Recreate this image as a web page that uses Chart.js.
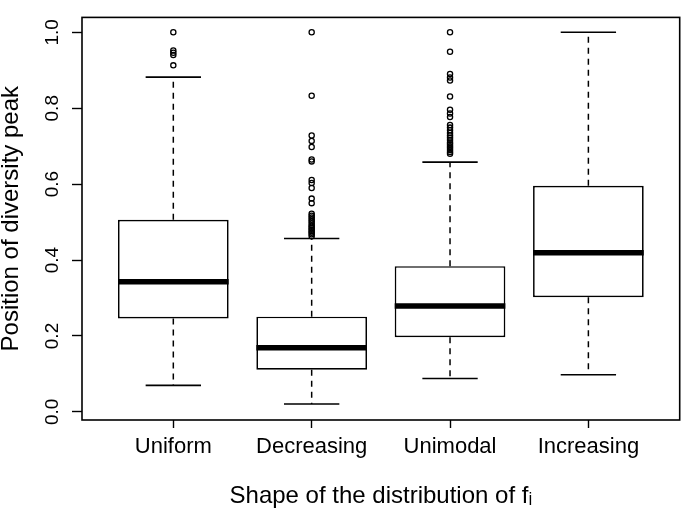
<!DOCTYPE html>
<html><head><meta charset="utf-8">
<script src="https://cdn.jsdelivr.net/npm/chart.js@4/dist/chart.umd.min.js"></script>
<style>html,body{margin:0;padding:0;background:#fff}#wrap{width:685px;height:514px}</style>
</head><body><div id="wrap"><canvas id="c" width="685" height="514"></canvas></div>
<script>
// ---- data ----
const categories = ['Uniform', 'Decreasing', 'Unimodal', 'Increasing'];
const whiskerLow  = [0.070, 0.021, 0.088, 0.098];
const quartile1   = [0.246, 0.111, 0.197, 0.302];
const medians     = [0.343, 0.169, 0.279, 0.419];
const quartile3   = [0.506, 0.251, 0.384, 0.596];
const whiskerHigh = [0.882, 0.457, 0.658, 1.000];
const outliersUniform    = [1.000, 0.952, 0.946, 0.940, 0.913];
const outliersDecreasing = [1.000, 0.833, 0.728, 0.714, 0.698, 0.665, 0.660, 0.611, 0.603, 0.590, 0.562, 0.550,
                            0.522, 0.517, 0.512, 0.507, 0.502, 0.497, 0.492, 0.488, 0.484, 0.480, 0.476, 0.472, 0.468, 0.463];
const outliersUnimodal   = [1.000, 0.949, 0.890, 0.881, 0.873, 0.831, 0.796, 0.786, 0.777,
                            0.756, 0.749, 0.742, 0.735, 0.728, 0.722, 0.716, 0.710, 0.705, 0.700, 0.695, 0.690, 0.685, 0.680];
const outliersIncreasing = [];
const yTickValues = [0, 0.2, 0.4, 0.6, 0.8, 1.0];
const xTitle = 'Shape of the distribution of f\u1D62';
const yTitle = 'Position of diversity peak';

// ---- styling / geometry options ----
const BOX_HALF = 0.4, CAP_HALF = 0.2;
const FONT = "'Liberation Sans', Arial, Helvetica, sans-serif";
const outlierLists = [outliersUniform, outliersDecreasing, outliersUnimodal, outliersIncreasing];

const boxData = categories.map((c, i) => ({x: i + 1, y: [quartile1[i], quartile3[i]]}));
const medianData = [], whiskerData = [], capData = [], outlierData = [];
categories.forEach((c, i) => {
  const x = i + 1;
  medianData.push({x: x - BOX_HALF, y: medians[i]}, {x: x + BOX_HALF, y: medians[i]}, {x: x + 0.5, y: null});
  whiskerData.push({x: x, y: quartile3[i]}, {x: x, y: whiskerHigh[i]}, {x: x, y: null},
                   {x: x, y: quartile1[i]}, {x: x, y: whiskerLow[i]}, {x: x + 0.5, y: null});
  capData.push({x: x - CAP_HALF, y: whiskerHigh[i]}, {x: x + CAP_HALF, y: whiskerHigh[i]}, {x: x, y: null},
               {x: x - CAP_HALF, y: whiskerLow[i]}, {x: x + CAP_HALF, y: whiskerLow[i]}, {x: x + 0.5, y: null});
  outlierLists[i].forEach(v => outlierData.push({x: x, y: v}));
});

const framePlugin = {
  id: 'frame',
  afterDatasetsDraw(chart) {
    const a = chart.chartArea, ctx = chart.ctx;
    ctx.save();
    ctx.strokeStyle = '#000';
    ctx.lineWidth = 1.6;
    ctx.strokeRect(a.left, a.top, a.right - a.left, a.bottom - a.top);
    ctx.restore();
  }
};

new Chart(document.getElementById('c'), {
  type: 'bar',
  data: {
    datasets: [
      {type: 'bar', data: boxData, backgroundColor: '#fff', borderColor: '#000', borderWidth: 1.7,
       borderSkipped: false, barPercentage: 1, categoryPercentage: 0.8, order: 5},
      {type: 'line', data: medianData, borderColor: '#000', borderWidth: 5.5, pointRadius: 0,
       borderCapStyle: 'butt', spanGaps: false, order: 1},
      {type: 'line', data: whiskerData, borderColor: '#000', borderWidth: 1.5, borderDash: [6, 5], pointRadius: 0,
       spanGaps: false, order: 2},
      {type: 'line', data: capData, borderColor: '#000', borderWidth: 1.6, pointRadius: 0, spanGaps: false, order: 2},
      {type: 'scatter', data: outlierData, pointStyle: 'circle', pointRadius: 2.6, borderColor: '#000',
       backgroundColor: 'rgba(0,0,0,0)', borderWidth: 1.3, order: 0}
    ]
  },
  options: {
    responsive: false,
    animation: false,
    events: [],
    layout: {padding: {left: 0, right: 2, top: 4, bottom: 0}},
    plugins: {legend: {display: false}, tooltip: {enabled: false}},
    scales: {
      x: {
        type: 'linear', min: 0.34, max: 4.66, offset: false,
        afterBuildTicks: s => { s.ticks = categories.map((c, i) => ({value: i + 1})); },
        afterFit: s => { s.height = 94; },
        border: {display: false},
        grid: {offset: false, drawOnChartArea: false, drawTicks: true, tickLength: 8, tickColor: '#000', tickWidth: 1.4},
        ticks: {callback: v => categories[Math.round(v) - 1], autoSkip: false, maxRotation: 0,
                color: '#000', font: {family: FONT, size: 22}, padding: 6},
        title: {display: true, text: xTitle, color: '#000', font: {family: FONT, size: 24, lineHeight: 1.2},
                padding: {top: 0, bottom: 3}}
      },
      y: {
        type: 'linear', min: -0.0213, max: 1.0393,
        afterBuildTicks: s => { s.ticks = yTickValues.map(v => ({value: v})); },
        afterFit: s => { s.width = 82; },
        border: {display: false},
        grid: {offset: false, drawOnChartArea: false, drawTicks: true, tickLength: 10, tickColor: '#000', tickWidth: 1.4},
        ticks: {callback: v => v.toFixed(1), minRotation: 90, maxRotation: 90, crossAlign: 'center',
                color: '#000', font: {family: FONT, size: 19}, padding: 6},
        title: {display: true, text: yTitle, color: '#000', font: {family: FONT, size: 24, lineHeight: 0.92},
                padding: {top: 0, bottom: 0}}
      }
    }
  },
  plugins: [framePlugin]
});
</script>
</body></html>
